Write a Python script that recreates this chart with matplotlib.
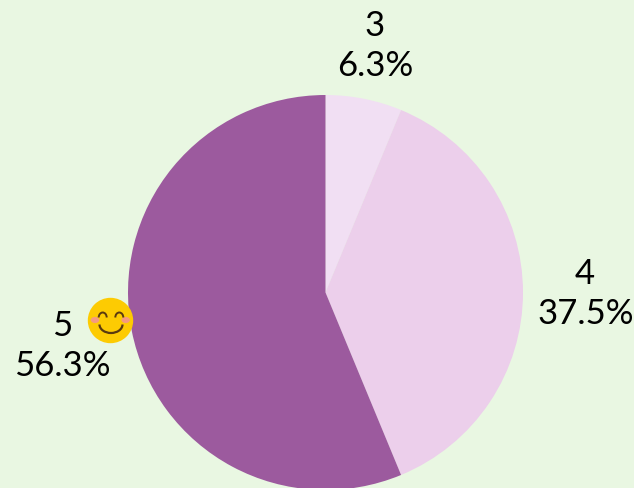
import matplotlib.pyplot as plt
from matplotlib.patches import Circle, Arc, Ellipse

labels = ["3", "4", "5"]
values = [6.25, 37.5, 56.25]
pct_labels = ["6.3%", "37.5%", "56.3%"]
colors = ["#f1dff3", "#eccfeb", "#9c5a9e"]

W, H = 634, 489
BG = "#e9f7e2"

plt.rcParams["font.family"] = ["Lato", "DejaVu Sans"]

fig = plt.figure(figsize=(W / 100, H / 100), dpi=100, facecolor=BG)

# pixel-sized axes: y runs down, so the pie goes "counterclock" to look clockwise
ax = fig.add_axes([0, 0, 1, 1])

ax.pie(
    values,
    colors=colors,
    startangle=270,
    counterclock=True,
    center=(325.5, 293.5),
    radius=197.5,
    frame=True,
)
ax.set_xlim(0, W)
ax.set_ylim(H, 0)
ax.set_aspect("equal")
ax.axis("off")

label_pos = [(375, 26), (585, 274), (62, 326)]
pct_pos = [(375, 66), (585.5, 314), (62, 366)]
for lab, (x, y) in zip(labels, label_pos):
    ax.text(x, y, lab, ha="center", va="center", fontsize=25, color="black")
for pct, (x, y) in zip(pct_labels, pct_pos):
    ax.text(x, y, pct, ha="center", va="center", fontsize=25, color="black")

# smiley next to the "5" label
ax.add_patch(Circle((110.5, 321.5), 22, color="#fdcb02", zorder=5))
ax.add_patch(Ellipse((95, 321), 7, 4.7, color="#f59a7f", zorder=6))
ax.add_patch(Ellipse((125.7, 321), 7, 4.7, color="#f59a7f", zorder=6))
ax.add_patch(Arc((102.7, 318.5), 8, 10, theta1=180, theta2=360, color="#5a3a10", lw=1.4, zorder=6))
ax.add_patch(Arc((119.3, 318.5), 8, 10, theta1=180, theta2=360, color="#5a3a10", lw=1.4, zorder=6))
ax.add_patch(Arc((111, 325.5), 23, 17, theta1=0, theta2=180, color="#5a3a10", lw=1.6, zorder=6))

fig.savefig("out.png", dpi=100, facecolor=BG)
